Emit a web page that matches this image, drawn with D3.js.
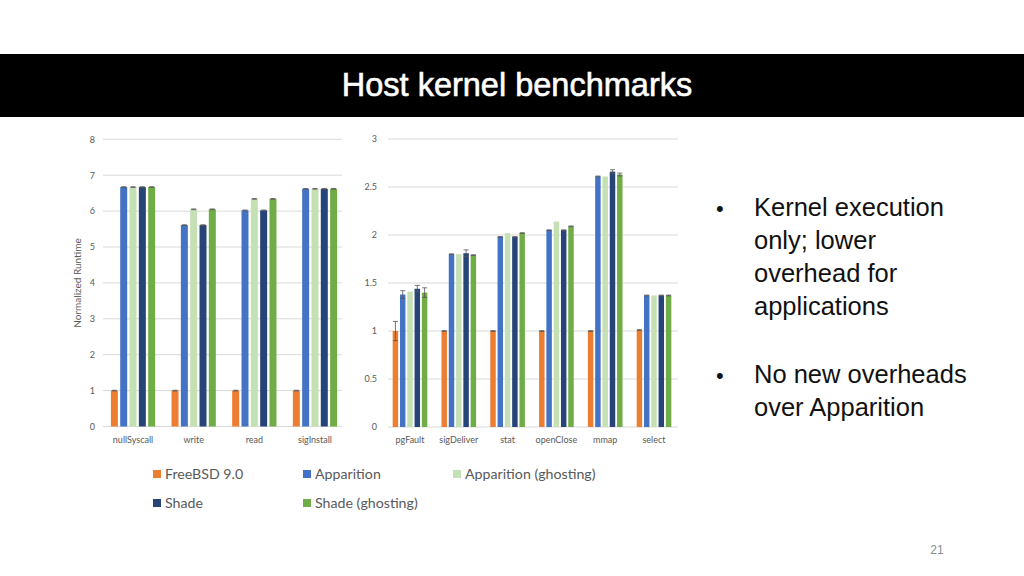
<!DOCTYPE html>
<html><head><meta charset="utf-8">
<script src="https://cdn.jsdelivr.net/npm/d3@7"></script>
<style>html,body{margin:0;padding:0;background:#fff;}svg{display:block;}</style>
</head><body>
<svg id="s" width="1024" height="576"></svg>
<script>
// ---- data ----
const seriesNames = ["FreeBSD 9.0","Apparition","Apparition (ghosting)","Shade","Shade (ghosting)"];
const seriesColors = ["#ED7D31","#4472C4","#C5E0B4","#264478","#70AD47"];

const leftCategories = ["nullSyscall","write","read","sigInstall"];
const leftFreeBSD    = [1, 1, 1, 1];
const leftApparition = [6.67, 5.61, 6.02, 6.62];
const leftAppGhost   = [6.67, 6.05, 6.34, 6.62];
const leftShade      = [6.67, 5.61, 6.02, 6.62];
const leftShadeGhost = [6.67, 6.05, 6.34, 6.62];
const leftErr        = [0.01, 0.01, 0.01, 0.01];
const leftTicks = [0,1,2,3,4,5,6,7,8];

const rightCategories = ["pgFault","sigDeliver","stat","openClose","mmap","select"];
const rightFreeBSD    = [1.00, 1.00, 1.00, 1.00, 1.00, 1.01];
const rightApparition = [1.38, 1.80, 1.98, 2.05, 2.61, 1.37];
const rightAppGhost   = [1.41, 1.80, 2.02, 2.14, 2.61, 1.37];
const rightShade      = [1.44, 1.81, 1.98, 2.05, 2.66, 1.37];
const rightShadeGhost = [1.40, 1.79, 2.02, 2.09, 2.63, 1.37];
const rightErrFreeBSD    = [0.10, 0.004, 0.004, 0.004, 0.004, 0.004];
const rightErrApparition = [0.04, 0.004, 0.004, 0.004, 0.004, 0.004];
const rightErrAppGhost   = [0.0, 0.0, 0.0, 0.0, 0.0, 0.0];
const rightErrShade      = [0.035, 0.035, 0.004, 0.004, 0.02, 0.004];
const rightErrShadeGhost = [0.05, 0.004, 0.004, 0.004, 0.015, 0.004];
const rightTicks = [0,0.5,1,1.5,2,2.5,3];

const bullets = [
  ["Kernel execution","only; lower","overhead for","applications"],
  ["No new overheads","over Apparition"]
];

const svg = d3.select("#s");
const FONT = "Lato, 'Open Sans', sans-serif";
const GRAY = "#595959";

// header
svg.append("rect").attr("x",0).attr("y",54).attr("width",1024).attr("height",63).attr("fill","#000");
svg.append("text").attr("x",517).attr("y",96).attr("text-anchor","middle")
  .attr("fill","#fff").attr("stroke","#fff").attr("stroke-width",0.6)
  .attr("font-family","'Liberation Sans', Arial, sans-serif")
  .attr("font-size",32.5).text("Host kernel benchmarks");

function drawChart(cfg){
  const {cats, vals, errs, ticks, domainMax, x0, x1, y0, y1, gx0, gx1, labelX, tickFmt} = cfg;
  const y = d3.scaleLinear().domain([0, domainMax]).range([y0, y1]);
  const xb = d3.scaleBand().domain(cats).range([x0, x1]).padding(0);
  const step = xb.bandwidth();
  const W = step * cfg.groupFrac;
  const xs = d3.scaleBand().domain(d3.range(5)).range([(step-W)/2, (step+W)/2]).paddingInner(0.25).paddingOuter(0);
  const g = svg.append("g");
  g.selectAll(".grid").data(ticks).join("line")
    .attr("x1",gx0).attr("x2",gx1).attr("y1",d=>y(d)).attr("y2",d=>y(d))
    .attr("stroke","#d9d9d9").attr("stroke-width",1);
  const yAxis = d3.axisLeft(y).tickValues(ticks).tickFormat(tickFmt).tickSize(0).tickPadding(0);
  const ya = g.append("g").attr("transform",`translate(${labelX},0)`).call(yAxis);
  ya.select(".domain").remove();
  ya.selectAll("text").attr("fill",GRAY).attr("font-family",FONT).attr("font-size",9);
  cats.forEach((c,ci)=>{
    for(let s=0;s<5;s++){
      const v = vals[s][ci];
      const bx = xb(c) + xs(s);
      g.append("rect").attr("x",bx).attr("y",y(v)).attr("width",xs.bandwidth()).attr("height",y(0)-y(v))
        .attr("fill",seriesColors[s]);
      const e = errs[s][ci];
      if(e>0){
        const cx = bx + xs.bandwidth()/2;
        const hw = Math.min(2.5, xs.bandwidth()/2);
        const st = "#555";
        g.append("line").attr("x1",cx).attr("x2",cx).attr("y1",y(v+e)).attr("y2",y(v-e)).attr("stroke",st).attr("stroke-width",0.8);
        g.append("line").attr("x1",cx-hw).attr("x2",cx+hw).attr("y1",y(v+e)).attr("y2",y(v+e)).attr("stroke",st).attr("stroke-width",0.8);
        g.append("line").attr("x1",cx-hw).attr("x2",cx+hw).attr("y1",y(v-e)).attr("y2",y(v-e)).attr("stroke",st).attr("stroke-width",0.8);
      }
    }
  });
  const xAxis = d3.axisBottom(xb).tickSize(0).tickPadding(0);
  const xa = g.append("g").attr("transform",`translate(0,${y0+10})`).call(xAxis);
  xa.select(".domain").remove();
  xa.selectAll("text").attr("fill",GRAY).attr("font-family",FONT).attr("font-size",9);
}

drawChart({
  cats:leftCategories,
  vals:[leftFreeBSD,leftApparition,leftAppGhost,leftShade,leftShadeGhost],
  errs:[leftErr,leftErr,leftErr,leftErr,leftErr],
  ticks:leftTicks, domainMax:8, x0:102.7, x1:345.3, y0:426.5, y1:139.3,
  gx0:103, gx1:342, labelX:95, groupFrac:0.73, tickFmt:d3.format("d")
});
drawChart({
  cats:rightCategories,
  vals:[rightFreeBSD,rightApparition,rightAppGhost,rightShade,rightShadeGhost],
  errs:[rightErrFreeBSD,rightErrApparition,rightErrAppGhost,rightErrShade,rightErrShadeGhost],
  ticks:rightTicks, domainMax:3, x0:385.6, x1:678.4, y0:427, y1:139,
  gx0:388, gx1:678, labelX:377, groupFrac:0.71, tickFmt:d=>String(d)
});

svg.append("text").attr("transform","translate(81,283) rotate(-90)").attr("text-anchor","middle")
  .attr("fill",GRAY).attr("font-family",FONT).attr("font-size",10).text("Normalized Runtime");

const legendPos = [[153,470],[303,470],[453,470],[153,499],[303,499]];
seriesNames.forEach((n,i)=>{
  const [lx,ly] = legendPos[i];
  svg.append("rect").attr("x",lx).attr("y",ly).attr("width",8).attr("height",8).attr("fill",seriesColors[i]);
  svg.append("text").attr("x",lx+12).attr("y",ly+8.5).attr("fill",GRAY)
    .attr("font-family",FONT).attr("font-size",14.2).text(n);
});

const bfont = "'Liberation Sans', Arial, sans-serif";
const bStarts = [216, 383];
bullets.forEach((lines,bi)=>{
  svg.append("text").attr("x",716).attr("y",bStarts[bi]).attr("fill","#111")
    .attr("font-family",bfont).attr("font-size",22).text("•");
  lines.forEach((l,li)=>{
    svg.append("text").attr("x",754).attr("y",bStarts[bi]+li*33).attr("fill","#111")
      .attr("font-family",bfont).attr("font-size",25.5).text(l);
  });
});

svg.append("text").attr("x",937).attr("y",554).attr("text-anchor","middle").attr("fill","#8c8c8c")
  .attr("font-family",bfont).attr("font-size",12).text("21");
</script>
</body></html>
